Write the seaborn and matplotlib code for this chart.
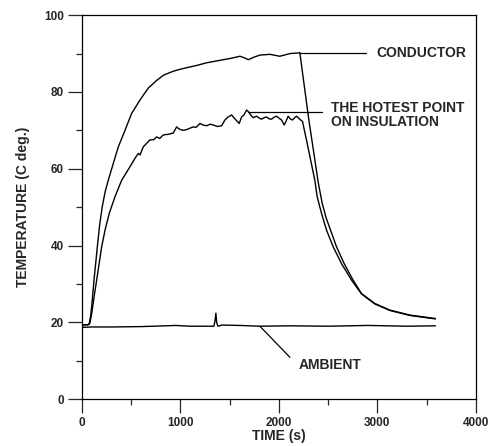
import matplotlib
matplotlib.use("Agg")
import matplotlib.pyplot as plt
import seaborn as sns
import pandas as pd
from matplotlib.ticker import MultipleLocator

# ---- data ----
cond_t = [0, 60, 75, 90, 105, 122, 156, 180, 205, 235, 267, 318, 369, 437, 504, 589, 673,
          758, 830, 927, 1010, 1096, 1180, 1266, 1350, 1435, 1520, 1604, 1650, 1689, 1750,
          1807, 1909, 2010, 2112, 2213, 2300, 2399, 2440, 2480, 2525, 2585, 2663, 2754, 2839,
          2975, 3127, 3330, 3590]
cond_y = [19.3, 19.4, 19.8, 22, 26, 31, 39.7, 45.5, 50, 54, 57, 61.4, 65.7, 70, 74.4, 77.9,
          81.0, 83.0, 84.4, 85.4, 86.0, 86.5, 87.0, 87.6, 88.0, 88.4, 88.8, 89.3, 88.9, 88.4,
          89.1, 89.6, 89.8, 89.3, 90.0, 90.2, 73.5, 56.5, 51.0, 47.2, 44, 39.7, 35.3, 31,
          27.5, 24.9, 23.2, 21.9, 21.0]

ins_t = [0, 70, 80, 100, 125, 149, 200, 234, 277, 335, 403, 487, 540, 572, 590, 622, 690,
         730, 758, 790, 825, 880, 927, 961, 990, 1029, 1063, 1100, 1130, 1160, 1198, 1230,
         1266, 1300, 1333, 1375, 1418, 1452, 1485, 1520, 1553, 1597, 1621, 1645, 1672, 1689,
         1715, 1739, 1773, 1800, 1824, 1850, 1875, 1900, 1925, 1950, 1976, 2000, 2027, 2054,
         2075, 2094, 2115, 2138, 2160, 2179, 2200, 2220, 2240, 2281, 2365, 2389, 2433, 2484,
         2551, 2636, 2738, 2839, 2975, 3127, 3330, 3590]
ins_y = [19.3, 19.4, 19.8, 22.5, 27, 31, 39.7, 44, 48.4, 52.7, 57, 60.5, 62.8, 64, 63.6,
         65.7, 67.5, 67.6, 68.3, 67.9, 68.8, 69.0, 69.3, 70.9, 70.3, 70.0, 70.2, 70.6, 70.9,
         70.8, 71.8, 71.4, 71.2, 71.6, 71.4, 71.0, 71.2, 72.7, 73.5, 74.0, 73.0, 71.8, 73.5,
         74.0, 75.3, 74.9, 74.0, 73.3, 73.7, 73.2, 72.9, 73.3, 73.5, 73.0, 72.9, 73.4, 73.7,
         73.2, 72.7, 71.4, 72.5, 73.7, 73.0, 72.7, 73.3, 73.7, 73.2, 72.7, 72.3, 67.4, 57,
         52.7, 48.4, 44, 39.7, 35.3, 31, 27.4, 24.8, 23.1, 21.8, 20.9]

amb_t = [0, 100, 300, 600, 850, 950, 1100, 1340, 1352, 1360, 1368, 1380, 1420, 1600, 1800,
         2100, 2500, 2900, 3300, 3590]
amb_y = [18.7, 18.8, 18.8, 18.9, 19.1, 19.2, 19.0, 19.0, 20.5, 22.4, 20.0, 19.0, 19.3, 19.2,
         19.0, 19.1, 19.0, 19.2, 19.0, 19.1]

x_ticks = [0, 1000, 2000, 3000, 4000]
y_ticks = [0, 20, 40, 60, 80, 100]

sns.set_style("ticks")
plt.rcParams['font.family'] = ['Liberation Sans', 'DejaVu Sans']
plt.rcParams['font.weight'] = 'bold'

fig = plt.figure(figsize=(4.88, 4.46), dpi=100)
ax = fig.add_axes([0.168, 0.105, 0.807, 0.861])

for t, y in [(cond_t, cond_y), (ins_t, ins_y), (amb_t, amb_y)]:
    df = pd.DataFrame({"t": t, "y": y})
    sns.lineplot(data=df, x="t", y="y", ax=ax, color="black", linewidth=1.0, sort=False)

# leader lines and labels
ax.plot([2213, 2883], [90.2, 90.2], color="black", linewidth=0.9)
ax.text(2990, 90.2, "CONDUCTOR", fontsize=10, fontweight="bold", va="center", ha="left")
ax.plot([1689, 2437], [74.8, 74.8], color="black", linewidth=0.9)
ax.text(2530, 74.0, "THE HOTEST POINT\nON INSULATION", fontsize=10, fontweight="bold",
        va="center", ha="left", linespacing=1.05)
ax.plot([1807, 2112], [19.0, 10.9], color="black", linewidth=0.9)
ax.text(2200, 8.9, "AMBIENT", fontsize=10, fontweight="bold", va="center", ha="left")

ax.set_xlim(0, 4000)
ax.set_ylim(0, 100)
ax.set_xticks(x_ticks)
ax.set_yticks(y_ticks)
ax.xaxis.set_minor_locator(MultipleLocator(500))
ax.yaxis.set_minor_locator(MultipleLocator(10))
ax.tick_params(which="major", direction="out", length=10, width=0.9, labelsize=8.5, pad=3)
ax.tick_params(which="minor", direction="out", length=4.5, width=0.9)
for s in ax.spines.values():
    s.set_linewidth(0.9)
    s.set_color("black")
ax.set_xlabel("TIME (s)", fontsize=10, fontweight="bold", labelpad=0)
ax.set_ylabel("TEMPERATURE (C deg.)", fontsize=10, fontweight="bold", labelpad=10)

fig.savefig("out.png", dpi=100)
